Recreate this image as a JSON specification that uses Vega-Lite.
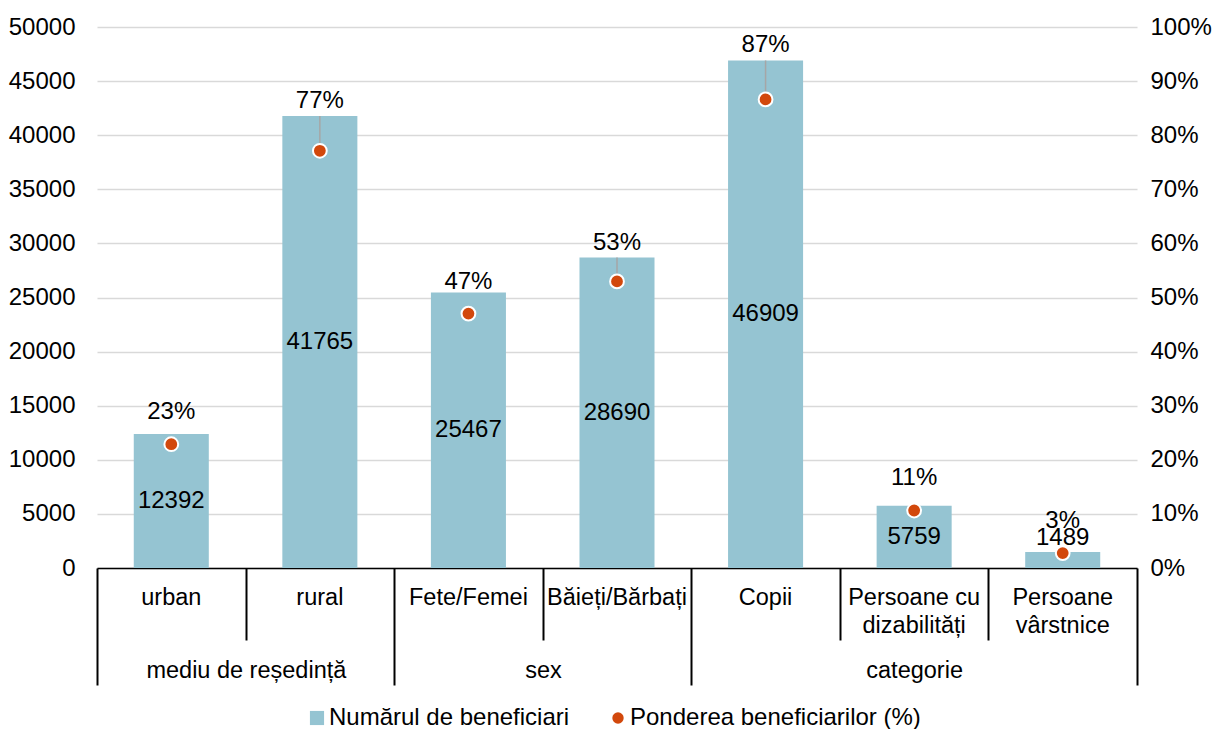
{
  "$schema": "https://vega.github.io/schema/vega-lite/v6.json",
  "width": 1040,
  "height": 541,
  "autosize": {"type": "none"},
  "padding": {"left": 97, "top": 27, "right": 83, "bottom": 161},
  "background": "white",
  "config": {"font": "Liberation Sans", "view": {"stroke": null}},
  "data": {
    "values": [
      {"cat": "urban", "grp": "mediu de reședință", "n": 12392, "p": 0.2288},
      {"cat": "rural", "grp": "mediu de reședință", "n": 41765, "p": 0.7712},
      {"cat": "Fete/Femei", "grp": "sex", "n": 25467, "p": 0.4702},
      {"cat": "Băieți/Bărbați", "grp": "sex", "n": 28690, "p": 0.5298},
      {"cat": "Copii", "grp": "categorie", "n": 46909, "p": 0.8662},
      {"cat": "Persoane cu dizabilități", "grp": "categorie", "n": 5759, "p": 0.1063},
      {"cat": "Persoane vârstnice", "grp": "categorie", "n": 1489, "p": 0.0275}
    ]
  },
  "layer": [
    {
      "encoding": {
        "x": {
          "field": "cat", "type": "nominal", "sort": null,
          "scale": {"paddingInner": 0, "paddingOuter": 0},
          "axis": {
            "title": null, "orient": "bottom", "domain": true, "domainColor": "black", "domainWidth": 1.5,
            "ticks": false, "tickSize": 0, "labelAngle": 0, "labelFontSize": 23.5, "labelColor": "black",
            "labelPadding": 17, "labelLineHeight": 28, "labelOverlap": false, "labelBound": false, "labelLimit": 400,
            "labelExpr": "datum.value === 'Persoane cu dizabilități' ? ['Persoane cu', 'dizabilități'] : datum.value === 'Persoane vârstnice' ? ['Persoane', 'vârstnice'] : datum.value"
          }
        }
      },
      "layer": [
        {
          "mark": {"type": "bar", "width": {"band": 0.505}},
          "encoding": {
            "y": {
              "field": "n", "type": "quantitative", "scale": {"domain": [0, 50000], "nice": false},
              "axis": {
                "title": null, "orient": "left", "values": [0, 5000, 10000, 15000, 20000, 25000, 30000, 35000, 40000, 45000, 50000],
                "domain": false, "ticks": false, "tickSize": 0, "labelPadding": 22, "labelFontSize": 24, "labelColor": "black",
                "format": "d", "grid": true, "gridColor": "#d9d9d9", "gridWidth": 1.5
              }
            },
            "color": {
              "datum": "Numărul de beneficiari",
              "scale": {"domain": ["Numărul de beneficiari", "Ponderea beneficiarilor (%)"], "range": ["#95C4D2", "#D2480C"]},
              "legend": {
                "title": null, "orient": "none", "direction": "horizontal", "legendX": 208, "legendY": 679,
                "labelFontSize": 24, "labelColor": "black", "labelLimit": 600, "columnPadding": 36, "labelOffset": 0, "symbolStrokeWidth": 0,
                "encode": {
                  "symbols": {
                    "update": {
                      "shape": {"signal": "datum.value === 'Numărul de beneficiari' ? 'square' : 'circle'"},
                      "size": {"signal": "datum.value === 'Numărul de beneficiari' ? 200 : 130"}
                    }
                  }
                }
              }
            }
          }
        },
        {
          "transform": [{"calculate": "max(datum.n / 2, 2800)", "as": "mid"}],
          "mark": {"type": "text", "fontSize": 24, "color": "black", "baseline": "middle"},
          "encoding": {
            "y": {"field": "mid", "type": "quantitative", "scale": {"domain": [0, 50000], "nice": false}},
            "text": {"field": "n", "type": "quantitative", "format": "d"}
          }
        }
      ]
    },
    {
      "encoding": {
        "x": {
          "field": "cat", "type": "nominal", "sort": null,
          "axis": {
            "title": null, "orient": "bottom", "domain": false, "ticks": true, "tickBand": "extent",
            "tickColor": "black", "tickWidth": 2,
            "tickSize": {"condition": {"test": "datum.value === 'rural' || datum.value === 'Băieți/Bărbați' || datum.value === 'Persoane vârstnice' || !datum.value", "value": 117}, "value": 72},
            "labelExpr": "datum.value === 'rural' ? 'mediu de reședință' : datum.value === 'Băieți/Bărbați' ? 'sex' : datum.value === 'Persoane cu dizabilități' ? 'categorie' : ''",
            "labelOffset": {"condition": {"test": "datum.value === 'rural' || datum.value === 'Băieți/Bărbați'", "value": -74}, "value": 0},
            "labelPadding": {"condition": {"test": "datum.value === 'rural' || datum.value === 'Băieți/Bărbați'", "value": -27}, "value": 18},
            "labelFontSize": 23.5, "labelColor": "black", "labelAngle": 0, "labelOverlap": false, "labelBound": false, "labelLimit": 400
          }
        }
      },
      "layer": [
        {
          "transform": [
            {"calculate": "datum.n / 50000", "as": "top"},
            {"filter": "datum.top - datum.p > 0.04"}
          ],
          "mark": {"type": "rule", "color": "#A6A6A6", "strokeWidth": 1.5},
          "encoding": {
            "y": {"field": "top", "type": "quantitative", "scale": {"domain": [0, 1], "nice": false},
              "axis": {
                "title": null, "orient": "right", "values": [0, 0.1, 0.2, 0.3, 0.4, 0.5, 0.6, 0.7, 0.8, 0.9, 1],
                "format": ".0%", "domain": false, "ticks": false, "tickSize": 0, "grid": false,
                "labelPadding": 13, "labelFontSize": 24, "labelColor": "black"
              }
            },
            "y2": {"field": "p"}
          }
        },
        {
          "mark": {"type": "point", "filled": true, "size": 190, "stroke": "white", "strokeWidth": 2, "opacity": 1},
          "encoding": {
            "y": {"field": "p", "type": "quantitative", "scale": {"domain": [0, 1], "nice": false}},
            "color": {"datum": "Ponderea beneficiarilor (%)"}
          }
        },
        {
          "transform": [
            {"calculate": "datum.n / 50000", "as": "top"},
            {"filter": "datum.top - datum.p > 0.04"}
          ],
          "mark": {"type": "text", "fontSize": 24, "color": "black", "baseline": "middle", "dy": -15},
          "encoding": {
            "y": {"field": "top", "type": "quantitative", "scale": {"domain": [0, 1], "nice": false}},
            "text": {"field": "p", "type": "quantitative", "format": ".0%"}
          }
        },
        {
          "transform": [
            {"calculate": "datum.n / 50000", "as": "top"},
            {"filter": "datum.top - datum.p <= 0.04"}
          ],
          "mark": {"type": "text", "fontSize": 24, "color": "black", "baseline": "middle", "dy": -32},
          "encoding": {
            "y": {"field": "p", "type": "quantitative", "scale": {"domain": [0, 1], "nice": false}},
            "text": {"field": "p", "type": "quantitative", "format": ".0%"}
          }
        }
      ]
    }
  ],
  "resolve": {"scale": {"y": "independent"}, "axis": {"x": "independent", "y": "independent"}}
}
